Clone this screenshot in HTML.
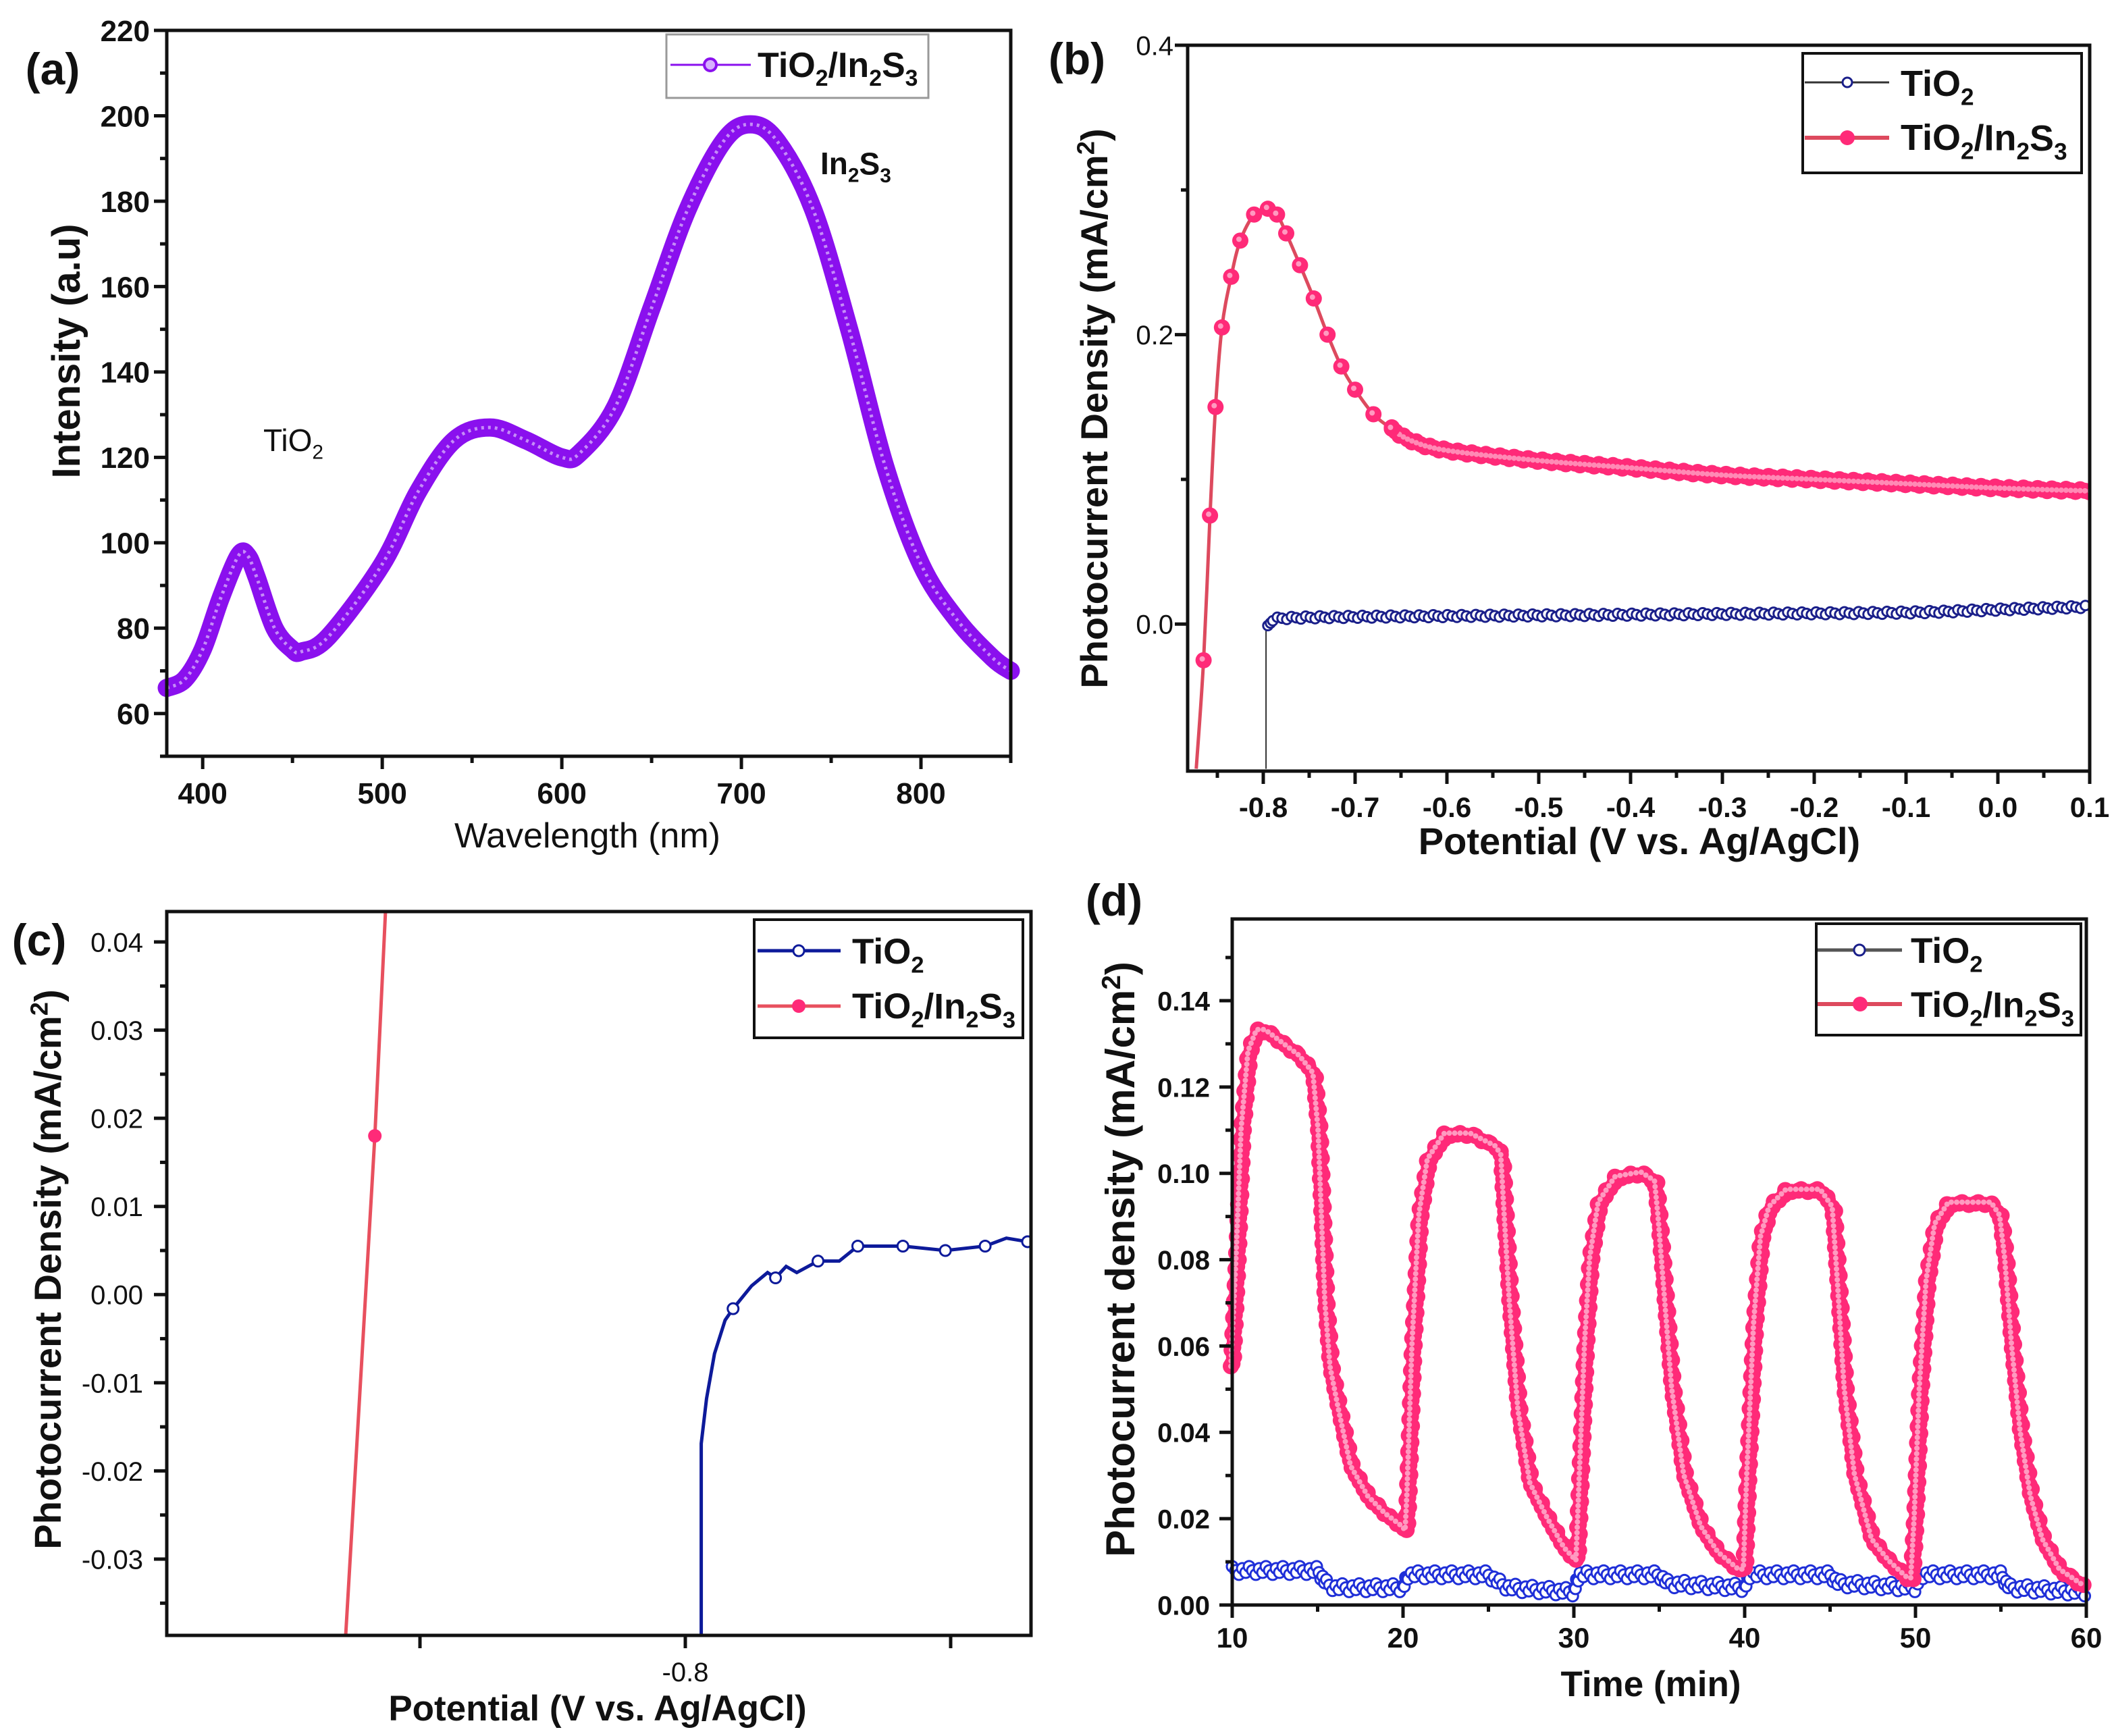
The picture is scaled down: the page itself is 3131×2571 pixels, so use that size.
<!DOCTYPE html>
<html><head><meta charset="utf-8">
<style>
html,body{margin:0;padding:0;background:#fff;}
svg{display:block;}
text{font-family:"Liberation Sans Narrow","Liberation Sans",sans-serif;}
</style></head>
<body>
<svg id="fig" width="3131" height="2571" viewBox="0 0 3131 2571" xmlns="http://www.w3.org/2000/svg"></svg>
<script>
// ---------- Panel (a) data ----------
const aWavelength=[380,390,400,410,420,425,430,440,450,455,470,500,520,540,560,580,600,610,630,650,670,690,705,720,740,760,780,800,820,840,850];
const aIntensity=[66,68,75,87,97,97,92,80,75,74.5,78,95,112,124,127,124,120,121,132,155,178,194,198,194,178,150,118,95,82,73,70];
const aXTicks=[400,500,600,700,800];
const aYTicks=[60,80,100,120,140,160,180,200,220];
// ---------- Panel (b) data ----------
const bRedV=[-0.873,-0.865,-0.858,-0.852,-0.845,-0.835,-0.825,-0.81,-0.795,-0.785,-0.775,-0.76,-0.745,-0.73,-0.715,-0.70,-0.68,-0.66,-0.64,-0.6,-0.5,-0.4,-0.3,-0.2,-0.1,0.0,0.1];
const bRedJ=[-0.1,-0.025,0.075,0.15,0.205,0.24,0.265,0.283,0.287,0.283,0.27,0.248,0.225,0.2,0.178,0.162,0.145,0.135,0.127,0.12,0.113,0.108,0.103,0.1,0.097,0.094,0.092];
const bBlueV=[-0.797,-0.797,-0.795,-0.79,-0.78,-0.7,-0.5,-0.3,-0.1,0.0,0.1];
const bBlueJ=[-0.1,-0.005,-0.002,0.002,0.004,0.005,0.006,0.007,0.008,0.010,0.012];
const bXTicks=[-0.8,-0.7,-0.6,-0.5,-0.4,-0.3,-0.2,-0.1,0.0,0.1];
const bXLabels=["-0.8","-0.7","-0.6","-0.5","-0.4","-0.3","-0.2","-0.1","0.0","0.1"];
const bYTicks=[0.0,0.2,0.4];
const bYLabels=["0.0","0.2","0.4"];
// ---------- Panel (c) data ----------
const cRedV=[-0.8128,-0.8117,-0.8113];
const cRedJ=[-0.0387,0.018,0.0434];
const cRedMarkV=[-0.8117];
const cRedMarkJ=[0.018];
const cBlueV=[-0.7994,-0.7994,-0.7992,-0.7989,-0.7985,-0.7982,-0.7975,-0.7969,-0.7966,-0.7962,-0.7958,-0.7950,-0.7942,-0.7935,-0.7918,-0.7902,-0.7887,-0.7879,-0.7871];
const cBlueJ=[-0.0387,-0.0169,-0.0118,-0.0067,-0.0029,-0.0016,0.0010,0.0025,0.0019,0.0032,0.0025,0.0038,0.0038,0.0055,0.0055,0.0050,0.0055,0.0064,0.0060];
const cBlueMarkIdx=[5,8,11,13,14,15,16,18];
const cXTicks=[-0.81,-0.8,-0.79];
const cXLabels=["","-0.8",""];
const cYTicks=[-0.03,-0.02,-0.01,0.0,0.01,0.02,0.03,0.04];
const cYLabels=["-0.03","-0.02","-0.01","0.00","0.01","0.02","0.03","0.04"];
// ---------- Panel (d) data ----------
const dRedT=[10,10.3,10.6,11,11.5,12,13,14,14.8,15.1,15.3,15.5,15.8,16.3,17,18,19,20,20.2,20.3,20.6,21,21.5,22.5,24,25.5,25.8,26,26.3,26.8,27.5,28.5,29.5,30.2,30.4,30.7,31,31.5,32.5,34,34.8,35,35.4,35.8,36.5,37.5,38.5,39.7,40,40.2,40.6,41,41.5,42.5,44.5,45.2,45.5,45.9,46.5,47.5,48.5,49.6,49.8,50,50.3,50.7,51.2,52,54.5,55,55.3,55.7,56.2,56.8,57.5,58.5,60];
const dRedJ=[0.055,0.08,0.11,0.128,0.133,0.133,0.13,0.127,0.123,0.11,0.09,0.07,0.055,0.045,0.032,0.025,0.021,0.018,0.017,0.025,0.06,0.09,0.103,0.109,0.109,0.106,0.104,0.09,0.07,0.045,0.028,0.02,0.013,0.01,0.03,0.06,0.08,0.093,0.099,0.1,0.098,0.09,0.07,0.05,0.03,0.018,0.012,0.008,0.008,0.03,0.065,0.085,0.092,0.096,0.096,0.092,0.075,0.05,0.03,0.015,0.01,0.006,0.006,0.02,0.05,0.075,0.088,0.093,0.093,0.09,0.08,0.06,0.04,0.025,0.015,0.008,0.004];
const dBlueT=[10,15,15.5,16,20,20.3,25,25.7,26.2,30,30.3,35,35.5,40,40.3,45,45.5,50,50.3,55,55.5,60];
const dBlueJ=[0.008,0.008,0.005,0.004,0.004,0.007,0.007,0.005,0.004,0.003,0.007,0.007,0.005,0.004,0.007,0.007,0.005,0.004,0.007,0.007,0.004,0.003];
const dXTicks=[10,20,30,40,50,60];
const dYTicks=[0,0.02,0.04,0.06,0.08,0.10,0.12,0.14];
const dYLabels=["0.00","0.02","0.04","0.06","0.08","0.10","0.12","0.14"];

const NS="http://www.w3.org/2000/svg";
const svg=document.getElementById('fig');
function el(tag,attrs,parent){const e=document.createElementNS(NS,tag);for(const k in attrs)e.setAttribute(k,attrs[k]);(parent||svg).appendChild(e);return e;}
function txt(s,x,y,size,weight,anchor,parent){const t=el('text',{x:x,y:y,'font-size':size,'font-weight':weight,'text-anchor':anchor,fill:'#111'},parent);t.textContent=s;return t;}
function subText(parts,x,y,size,weight,anchor,parent){
  const t=el('text',{x:x,y:y,'font-size':size,'font-weight':weight,'text-anchor':anchor,fill:'#111'},parent);
  parts.forEach(p=>{const ts=document.createElementNS(NS,'tspan');ts.textContent=p[0];
    if(p[1]==='sub'){ts.setAttribute('font-size',size*0.65);ts.setAttribute('dy',size*0.25);}
    else if(p[1]==='sup'){ts.setAttribute('font-size',size*0.65);ts.setAttribute('dy',-size*0.35);}
    else if(p[1]==='reset'){ts.setAttribute('dy',p[2]);}
    t.appendChild(ts);});
  return t;}
function scale(d0,d1,r0,r1){return v=>r0+(v-d0)/(d1-d0)*(r1-r0);}
function smoothPath(pts){let d='M'+pts[0][0]+','+pts[0][1];
  for(let i=0;i<pts.length-1;i++){const p0=pts[Math.max(0,i-1)],p1=pts[i],p2=pts[i+1],p3=pts[Math.min(pts.length-1,i+2)];
    const c1=[p1[0]+(p2[0]-p0[0])/6,p1[1]+(p2[1]-p0[1])/6],c2=[p2[0]-(p3[0]-p1[0])/6,p2[1]-(p3[1]-p1[1])/6];
    d+=' C'+c1[0]+','+c1[1]+' '+c2[0]+','+c2[1]+' '+p2[0]+','+p2[1];}
  return d;}
function linePath(pts){return 'M'+pts.map(p=>p[0]+','+p[1]).join(' L');}
function markersAlong(pathEl,step,drawFn){const L=pathEl.getTotalLength();let k=0;for(let s=0;s<=L;s+=step){const p=pathEl.getPointAtLength(s);drawFn(p.x,p.y,k++);}}

function frame(g,x0,y0,x1,y1,name){const r=el('rect',{x:x0,y:y0,width:x1-x0,height:y1-y0,fill:'none',stroke:'#111','stroke-width':5},g);
  }
function xTicks(g,sx,y,ticks,labels,minor,size,ly,weight){
  ticks.forEach((v,i)=>{el('line',{x1:sx(v),x2:sx(v),y1:y,y2:y+19,stroke:'#111','stroke-width':5},g);
    if(labels[i]!==''){const t=txt(labels[i],sx(v),ly,size,weight,'middle',g);}});
  minor.forEach(v=>el('line',{x1:sx(v),x2:sx(v),y1:y,y2:y+10,stroke:'#111','stroke-width':5},g));}
function yTicks(g,sy,x,ticks,labels,minor,size,lx,weight){
  ticks.forEach((v,i)=>{el('line',{x1:x-19,x2:x,y1:sy(v),y2:sy(v),stroke:'#111','stroke-width':5},g);
    const t=txt(labels[i],lx,sy(v)+size*0.36,size,weight,'end',g);});
  minor.forEach(v=>el('line',{x1:x-10,x2:x,y1:sy(v),y2:sy(v),stroke:'#111','stroke-width':5},g));}
function rotTitle(g,parts,x,y,size,weight,name){const t=subText(parts,0,0,size,weight,'middle',g);t.setAttribute('transform','translate('+x+','+y+') rotate(-90)');t.setAttribute('font-family','"Liberation Sans",sans-serif');
  return t;}
function range(a,b,s){const r=[];for(let v=a;v<=b+1e-9;v+=s)r.push(+v.toFixed(6));return r;}

// ================= Panel (a) =================
(function(){
 const g=el('g',{});
 const X0=247,X1=1497,Y0=45,Y1=1120;
 const sx=scale(380,850,X0,X1),sy=scale(220,50,Y0,Y1);
 const pts=aWavelength.map((w,i)=>[sx(w),sy(aIntensity[i])]);
 const p=el('path',{d:smoothPath(pts),fill:'none',stroke:'#8a10ee','stroke-width':27,'stroke-linecap':'round'},g);
 
 el('path',{d:smoothPath(pts),fill:'none',stroke:'#c58cf8','stroke-width':5,'stroke-dasharray':'4 6'},g);
 frame(g,X0,Y0,X1,Y1,'plot-frame-a');
 xTicks(g,sx,Y1,aXTicks,aXTicks.map(String),range(450,850,100),44,1190,'bold');
 yTicks(g,sy,X0,aYTicks,aYTicks.map(String),range(50,210,20),44,222,'bold');
 let t=txt('(a)',78,125,66,'bold','middle',g);
 t=txt('Wavelength (nm)',870,1255,52,'normal','middle',g);t.setAttribute('font-family','"Liberation Sans",sans-serif');
 rotTitle(g,[['Intensity (a.u)']],118,520,58,'bold','y-axis-title-a');
 t=subText([['TiO'],['2','sub']],390,668,46,'normal','start',g);
 t=subText([['In'],['2','sub'],['S','reset',-11],['3','sub']],1215,258,46,'bold','start',g);
 const lg=el('g',{},g);
 el('rect',{x:987,y:51,width:388,height:94,fill:'#fff',stroke:'#999','stroke-width':3},lg);
 el('line',{x1:993,x2:1112,y1:96,y2:96,stroke:'#8a10ee','stroke-width':3},lg);
 el('circle',{cx:1052,cy:96,r:9,fill:'#d7b0ff',stroke:'#8a10ee','stroke-width':4},lg);
 subText([['TiO'],['2','sub'],['/In','reset',-13],['2','sub'],['S','reset',-13],['3','sub']],1122,114,52,'bold','start',lg);
})();

// ================= Panel (b) =================
(function(){
 const g=el('g',{});
 const X0=1759,X1=3095,Y0=67,Y1=1142;
 const sx=scale(-0.8,0.1,1871,3095),sy=scale(0.4,-0.1016,Y0,Y1);
 const cp=el('clipPath',{id:'clipb'},g);
 el('rect',{x:X0,y:Y0,width:X1-X0,height:Y1-Y0},cp);
 const cg=el('g',{'clip-path':'url(#clipb)'},g);
 const bp=bBlueV.map((v,i)=>[sx(v),sy(bBlueJ[i])]);
 const bl=el('path',{d:linePath(bp),fill:'none',stroke:'#333','stroke-width':2},cg);
 
 const bAfter=el('path',{d:smoothPath(bp.slice(2)),fill:'none',stroke:'none'},cg);
 markersAlong(bAfter,7,(x,y,k)=>el('circle',{cx:x,cy:y+((k%3)-1)*2,r:7,fill:'#fff',stroke:'#1a1f8a','stroke-width':3},cg));
 const rp=bRedV.map((v,i)=>[sx(v),sy(bRedJ[i])]);
 const rl=el('path',{d:smoothPath(rp),fill:'none',stroke:'#dd4a5e','stroke-width':5},cg);
 
 const tail=el('path',{d:smoothPath(rp.slice(17)),fill:'none',stroke:'none'},cg);
 markersAlong(tail,7,(x,y,k)=>el('circle',{cx:x,cy:y+((k%3)-1)*2,r:12,fill:'#ff2a78'},cg));
 markersAlong(tail,7,(x,y)=>el('circle',{cx:x,cy:y,r:4,fill:'#ff8ab5'},cg));
 rp.slice(1,18).forEach(p=>{el('circle',{cx:p[0],cy:p[1],r:12,fill:'#ff2a78'},cg);el('circle',{cx:p[0]-2,cy:p[1]-2,r:4,fill:'#ff9ac0'},cg);});
 frame(g,X0,Y0,X1,Y1,'plot-frame-b');
 xTicks(g,sx,Y1,bXTicks,bXLabels,range(-0.85,0.05,0.1),42,1210,'bold');
 yTicks(g,sy,X0,bYTicks,bYLabels,[0.1,0.3],40,1738,'normal');
 let t=txt('(b)',1595,110,66,'bold','middle',g);
 t=txt('Potential (V vs. Ag/AgCl)',2428,1265,56,'bold','middle',g);t.setAttribute('font-family','"Liberation Sans",sans-serif');
 rotTitle(g,[['Photocurrent Density (mA/cm'],['2','sup'],[')','reset',20]],1640,605,56,'bold','y-axis-title-b');
 const lg=el('g',{},g);
 el('rect',{x:2670,y:79,width:413,height:177,fill:'#fff',stroke:'#111','stroke-width':4},lg);
 el('line',{x1:2673,x2:2798,y1:122,y2:122,stroke:'#333','stroke-width':3},lg);
 el('circle',{cx:2736,cy:122,r:7,fill:'#fff',stroke:'#1a1f8a','stroke-width':3},lg);
 el('line',{x1:2673,x2:2798,y1:204,y2:204,stroke:'#dd4a5e','stroke-width':6},lg);
 el('circle',{cx:2736,cy:204,r:11,fill:'#ff2a78'},lg);
 subText([['TiO'],['2','sub']],2815,142,54,'bold','start',lg);
 subText([['TiO'],['2','sub'],['/In','reset',-13],['2','sub'],['S','reset',-13],['3','sub']],2815,222,54,'bold','start',lg);
})();

// ================= Panel (c) =================
(function(){
 const g=el('g',{});
 const X0=247,X1=1527,Y0=1350,Y1=2422;
 const sx=scale(-0.8,-0.79,1015,1408),sy=scale(0.04,-0.03,1395,2309);
 const cp=el('clipPath',{id:'clipc'},g);
 el('rect',{x:X0,y:Y0,width:X1-X0,height:Y1-Y0},cp);
 const cg=el('g',{'clip-path':'url(#clipc)'},g);
 const rl=el('path',{d:linePath(cRedV.map((v,i)=>[sx(v),sy(cRedJ[i])])),fill:'none',stroke:'#e8505e','stroke-width':5},cg);
 
 cRedMarkV.forEach((v,i)=>{el('circle',{cx:sx(v),cy:sy(cRedMarkJ[i]),r:10,fill:'#ff2a78'},cg);});
 const bpts=cBlueV.map((v,i)=>[sx(v),sy(cBlueJ[i])]);
 const bl=el('path',{d:linePath(bpts),fill:'none',stroke:'#0d1a9a','stroke-width':5},cg);
 
 cBlueMarkIdx.forEach(i=>el('circle',{cx:bpts[i][0],cy:bpts[i][1],r:8,fill:'#fff',stroke:'#0d1a9a','stroke-width':3},cg));
 frame(g,X0,Y0,X1,Y1,'plot-frame-c');
 xTicks(g,sx,Y1,cXTicks,cXLabels,[],40,2490,'normal');
 yTicks(g,sy,X0,cYTicks,cYLabels,range(-0.035,0.035,0.01),40,212,'normal');
 let t=txt('(c)',58,1415,66,'bold','middle',g);
 t=txt('Potential (V vs. Ag/AgCl)',885,2548,53,'bold','middle',g);t.setAttribute('font-family','"Liberation Sans",sans-serif');
 rotTitle(g,[['Photocurrent Density (mA/cm'],['2','sup'],[')','reset',20]],90,1880,56,'bold','y-axis-title-c');
 const lg=el('g',{},g);
 el('rect',{x:1117,y:1362,width:398,height:175,fill:'#fff',stroke:'#111','stroke-width':4},lg);
 el('line',{x1:1122,x2:1245,y1:1408,y2:1408,stroke:'#0d1a9a','stroke-width':5},lg);
 el('circle',{cx:1183,cy:1408,r:8,fill:'#fff',stroke:'#0d1a9a','stroke-width':3},lg);
 el('line',{x1:1122,x2:1245,y1:1490,y2:1490,stroke:'#e8505e','stroke-width':5},lg);
 el('circle',{cx:1183,cy:1490,r:10,fill:'#ff2a78'},lg);
 subText([['TiO'],['2','sub']],1262,1427,53,'bold','start',lg);
 subText([['TiO'],['2','sub'],['/In','reset',-13],['2','sub'],['S','reset',-13],['3','sub']],1262,1508,53,'bold','start',lg);
})();

// ================= Panel (d) =================
(function(){
 const g=el('g',{});
 const X0=1825,X1=3090,Y0=1361,Y1=2377;
 const sx=scale(10,60,X0,X1),sy=scale(0,0.14,Y1,1482);
 const bpts=dBlueT.map((v,i)=>[sx(v),sy(dBlueJ[i])]);
 const bl=el('path',{d:linePath(bpts),fill:'none',stroke:'#333','stroke-width':2},g);
 
 markersAlong(bl,5,(x,y,k)=>el('circle',{cx:x,cy:y+((k*7)%5-2)*3,r:8,fill:'#fff',stroke:'#1f2fd8','stroke-width':3},g));
 const rpts=dRedT.map((v,i)=>[sx(v),sy(dRedJ[i])]);
 const rl=el('path',{d:linePath(rpts),fill:'none',stroke:'#dd4a5e','stroke-width':4},g);
 
 markersAlong(rl,8,(x,y,k)=>el('circle',{cx:x+((k%3)-1)*2,cy:y+((k*5)%3-1)*2,r:12,fill:'#ff2a78'},g));
 markersAlong(rl,8,(x,y)=>el('circle',{cx:x-2,cy:y-2,r:4,fill:'#ff9ac0'},g));
 frame(g,X0,Y0,X1,Y1,'plot-frame-d');
 xTicks(g,sx,Y1,dXTicks,dXTicks.map(String),range(15,55,10),42,2440,'bold');
 yTicks(g,sy,X0,dYTicks,dYLabels,range(0.01,0.15,0.02),40,1792,'bold');
 let t=txt('(d)',1650,1356,66,'bold','middle',g);
 t=txt('Time (min)',2445,2512,53,'bold','middle',g);t.setAttribute('font-family','"Liberation Sans",sans-serif');
 rotTitle(g,[['Photocurrent density (mA/cm'],['2','sup'],[')','reset',21]],1680,1865,60,'bold','y-axis-title-d');
 const lg=el('g',{},g);
 el('rect',{x:2690,y:1368,width:392,height:165,fill:'#fff',stroke:'#111','stroke-width':4},lg);
 el('line',{x1:2692,x2:2817,y1:1407,y2:1407,stroke:'#555','stroke-width':5},lg);
 el('circle',{cx:2754,cy:1407,r:8,fill:'#fff',stroke:'#1a1f8a','stroke-width':3},lg);
 el('line',{x1:2692,x2:2817,y1:1487,y2:1487,stroke:'#dd4a5e','stroke-width':6},lg);
 el('circle',{cx:2755,cy:1487,r:11,fill:'#ff2a78'},lg);
 subText([['TiO'],['2','sub']],2830,1426,53,'bold','start',lg);
 subText([['TiO'],['2','sub'],['/In','reset',-13],['2','sub'],['S','reset',-13],['3','sub']],2830,1506,53,'bold','start',lg);
})();
</script>
</body></html>
